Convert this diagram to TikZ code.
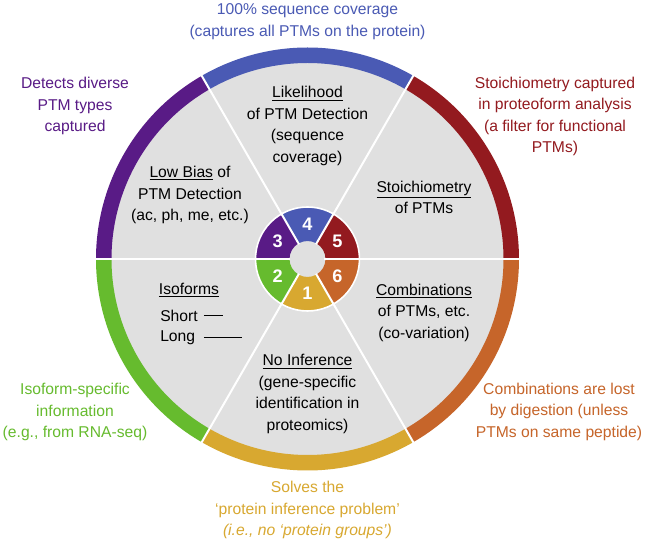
\documentclass[tikz,border=0pt]{standalone}
\usepackage{fontspec}
\setmainfont{Liberation Sans}
\definecolor{ptmblue}{HTML}{4A5AB4}
\definecolor{ptmred}{HTML}{931A1F}
\definecolor{ptmorange}{HTML}{C6652A}
\definecolor{ptmgold}{HTML}{D8A830}
\definecolor{ptmgreen}{HTML}{66BB2E}
\definecolor{ptmpurple}{HTML}{591B86}
\definecolor{diskgray}{HTML}{E0E0E0}

\begin{document}
\begin{tikzpicture}[x=0.75pt,y=0.75pt,
  txt/.style={align=center,inner sep=0pt,font=\fontsize{11.75}{16.1}\selectfont},
  num/.style={text=white,inner sep=0pt,font=\fontsize{13.6}{14}\selectfont\bfseries}]
\fill[white] (-307.5,-286) rectangle (339.5,259);
\useasboundingbox (-307.5,-286) rectangle (339.5,259);

% disk, outer ring and centre pie
\fill[diskgray] (0,0) circle (197);
\foreach \a/\col/\n in {90/ptmblue/4,30/ptmred/5,-30/ptmorange/6,-90/ptmgold/1,210/ptmgreen/2,150/ptmpurple/3}{
  \fill[\col] (\a-30:196) arc[start angle=\a-30,end angle=\a+30,radius=196]
     -- (\a+30:211.5) arc[start angle=\a+30,end angle=\a-30,radius=211.5] -- cycle;
  \fill[\col] (\a-30:18) arc[start angle=\a-30,end angle=\a+30,radius=18]
     -- (\a+30:52) arc[start angle=\a+30,end angle=\a-30,radius=52] -- cycle;
  \node[num] (n\n) at (\a:34.5) {\n};
}
\draw[white,line width=1.2pt] (0,0) circle (52);
\foreach \a in {0,60,...,300}
  \draw[white,line width=1.5pt] (\a:17) -- (\a:213);

% texts in the sectors
\node[txt] (likely) at (0,133) {\underline{Likelihood}\\of PTM Detection\\(sequence\\coverage)};
\node[txt] (lowbias) at (-117.5,64) {\underline{Low Bias} of\\PTM Detection\\(ac, ph, me, etc.)};
\node[txt] (stoich) at (116.5,61.5) {\underline{Stoichiometry}\\of PTMs};
\node[txt] (combi) at (116.5,-53.5) {\underline{Combinations}\\of PTMs, etc.\\(co-variation)};
\node[txt] (noinf) at (0,-135) {\underline{No Inference}\\(gene-specific\\identification in\\proteomics)};
\node[txt] (iso) at (-118.5,-31) {\underline{Isoforms}};
\node[txt,anchor=west] (short) at (-147.5,-57) {Short};
\node[txt,anchor=west] (long) at (-147.5,-79) {Long};
\draw[line width=0.9pt] (-103.5,-56.5) -- (-84.5,-56.5);
\draw[line width=0.9pt] (-103.5,-78.5) -- (-65.5,-78.5);

% texts round the wheel
\node[txt,text=ptmblue] (cover) at (0,237.5) {100\% sequence coverage\\(captures all PTMs on the protein)};
\node[txt,text=ptmpurple] (diverse) at (-232.5,153) {Detects diverse\\PTM types\\captured};
\node[txt,text=ptmred] (captured) at (247.5,142.5) {Stoichiometry captured\\in proteoform analysis\\(a filter for functional\\PTMs)};
\node[txt,text=ptmgreen] (isospec) at (-232.5,-153) {Isoform-specific\\information\\(e.g., from RNA-seq)};
\node[txt,text=ptmorange] (lost) at (251.5,-152.5) {Combinations are lost\\by digestion (unless\\PTMs on same peptide)};
\node[txt,text=ptmgold] (solves) at (0,-251) {Solves the\\‘protein inference problem’\\\textit{(i.e., no ‘protein groups’)}};
\end{tikzpicture}
\end{document}
